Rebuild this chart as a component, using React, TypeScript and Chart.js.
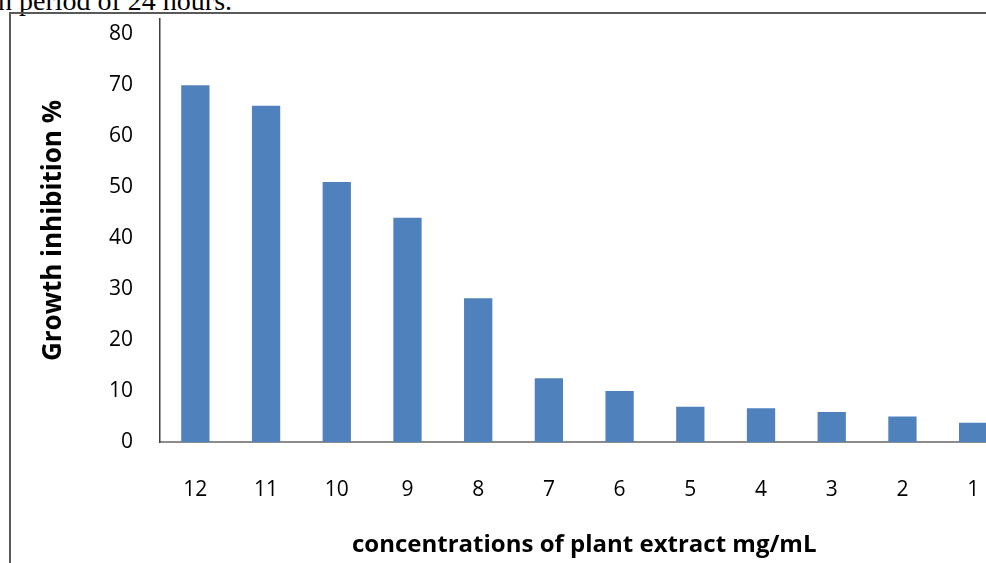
import React, { useEffect, useRef } from "react";
import { Chart, registerables } from "chart.js";

Chart.register(...registerables);

const categories = ["12", "11", "10", "9", "8", "7", "6", "5", "4", "3", "2", "1"];
const inhibition = [70, 66, 51, 44, 28.2, 12.5, 10, 6.9, 6.6, 5.9, 5.0, 3.8];
const yTickValues = [0, 10, 20, 30, 40, 50, 60, 70, 80];
const yTitle = "Growth inhibition %";
const xTitle = "concentrations of plant extract mg/mL";
const captionText = "n period of 24 hours.";

const FONT = "'Open Sans', sans-serif";

export default function App() {
  const canvasRef = useRef<HTMLCanvasElement | null>(null);

  useEffect(() => {
    const canvas = canvasRef.current;
    if (!canvas) return;
    const chart = new Chart(canvas, {
      type: "bar",
      data: {
        labels: categories,
        datasets: [
          {
            data: inhibition,
            backgroundColor: "#4F81BD",
            borderWidth: 0,
            barPercentage: 0.4,
            categoryPercentage: 1,
          },
        ],
      },
      options: {
        responsive: false,
        animation: false,
        layout: { padding: { top: 19, right: 3.5, left: 0, bottom: 0 } },
        plugins: { legend: { display: false }, tooltip: { enabled: false } },
        scales: {
          x: {
            grid: { display: false, drawTicks: false },
            border: { display: true, color: "#8c8c8c", width: 2 },
            ticks: {
              color: "#000",
              font: { family: FONT, size: 21 },
              padding: 35.5,
              maxRotation: 0,
              autoSkip: false,
            },
            title: {
              display: true,
              text: xTitle,
              color: "#000",
              font: { family: FONT, size: 24, weight: "bold" },
              padding: { top: 0, bottom: 3.6 },
            },
            afterFit: (scale: any) => {
              scale.height = 121;
              scale.paddingLeft = 0;
              scale.paddingRight = 0;
            },
          },
          y: {
            min: 0,
            max: 83,
            grid: { display: false, drawTicks: false },
            border: { display: true, color: "#404040", width: 1.5 },
            ticks: {
              stepSize: 10,
              color: "#000",
              font: { family: FONT, size: 21 },
              padding: 27,
            },
            afterBuildTicks: (scale: any) => {
              scale.ticks = yTickValues.map((v) => ({ value: v }));
            },
            title: {
              display: true,
              text: yTitle,
              color: "#000",
              font: { family: FONT, size: 26, weight: "bold" },
              padding: { top: 37.5, bottom: 0 },
            },
            afterFit: (scale: any) => {
              scale.width = 160;
              scale.paddingTop = 0;
              scale.paddingBottom = 0;
            },
          },
        },
      },
    });
    return () => chart.destroy();
  }, []);

  return (
    <div
      style={{
        position: "fixed",
        inset: 0,
        overflow: "hidden",
        background: "#fff",
      }}
    >
      <div
        style={{
          position: "absolute",
          left: -2,
          top: -13,
          fontFamily: "'Liberation Serif', 'Times New Roman', serif",
          fontSize: 28,
          lineHeight: "28px",
          whiteSpace: "nowrap",
          color: "#000",
        }}
      >
        {captionText}
      </div>
      <div
        style={{
          position: "absolute",
          left: 9,
          top: 12,
          width: 1200,
          height: 800,
          border: "2px solid #595959",
        }}
      />
      <canvas
        ref={canvasRef}
        width={1012}
        height={563}
        style={{ position: "absolute", left: 0, top: 0, width: 1012, height: 563 }}
      />
    </div>
  );
}
